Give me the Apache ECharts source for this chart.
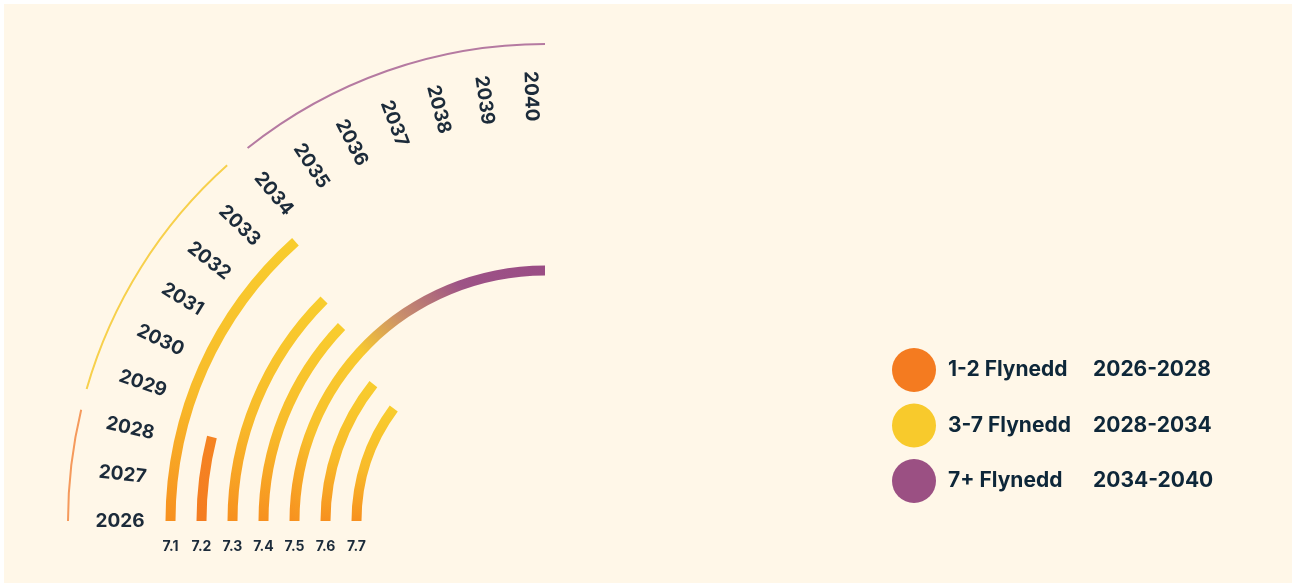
<!DOCTYPE html>
<html>
<head>
<meta charset="utf-8">
<script src="https://cdn.jsdelivr.net/npm/echarts@6/dist/echarts.min.js"></script>
<style>
  html, body { margin: 0; padding: 0; background: #fff; }
  #chart { position: absolute; left: 4px; top: 4px; width: 1288px; height: 579px; background: #fff7e8; }
</style>
</head>
<body>
<div id="chart"></div>
<script>
// sections, outer ring first
const sections = ['7.1', '7.2', '7.3', '7.4', '7.5', '7.6', '7.7']
// year each section's bar runs to (all start at 2026)
const reachYear = [2033.5, 2028.2, 2033, 2032.8, 2040, 2032, 2031.7]
const years = [2026, 2027, 2028, 2029, 2030, 2031, 2032, 2033, 2034, 2035, 2036, 2037, 2038, 2039, 2040]
// phases (outer thin ring + legend)
const phaseNames = ['1-2 Flynedd', '3-7 Flynedd', '7+ Flynedd']
const phaseRanges = ['2026-2028', '2028-2034', '2034-2040']
const phaseStart = [2026, 2028.5, 2034]
const phaseEnd = [2028.1, 2033.5, 2040]

const phaseColors = ['#f47b20', '#f8ca2c', '#9b5083']
const ringColors = ['#f59a5c', '#f7d04c', '#b57aa1']
const ink = '#1c2b3a'
const center = [541, 517]

const G = echarts.graphic.LinearGradient
const warm = new G(0, 1, 0, 0, [
  { offset: 0, color: '#f7901f' },
  { offset: 0.45, color: '#f8bb2a' },
  { offset: 1, color: '#f8cd2e' }
])
const deepOrange = new G(0, 1, 0, 0, [
  { offset: 0, color: '#f47c20' },
  { offset: 1, color: '#f58423' }
])
const toPurple = new G(0, 1, 1, 0, [
  { offset: 0, color: '#f7901f' },
  { offset: 0.22, color: '#f8c22c' },
  { offset: 0.47, color: '#f8c92e' },
  { offset: 0.62, color: '#c98e6c' },
  { offset: 0.8, color: '#9d5286' },
  { offset: 1, color: '#9a4d85' }
])

function barColor(i) {
  if (sections[i] === '7.2') return deepOrange
  if (reachYear[i] > 2034) return toPurple
  return warm
}

function angleOf(cs, p) {
  return Math.atan2(p[1] - cs.cy, p[0] - cs.cx)
}

const hidden = { axisLine: { show: false }, axisTick: { show: false }, axisLabel: { show: false }, splitLine: { show: false } }
const angleBase = { type: 'value', min: years[0], max: years[years.length - 1], startAngle: 180, endAngle: 90, clockwise: true }

const chart = echarts.init(document.getElementById('chart'))

const series = []

// radial bars, from the first year to reachYear
series.push({
  type: 'custom',
  coordinateSystem: 'polar',
  polarIndex: 0,
  encode: { radius: 0, angle: 1 },
  data: sections.map((s, i) => [s, reachYear[i]]),
  renderItem: function (params, api) {
    const cs = params.coordSys
    const p0 = api.coord([api.value(0), years[0]])
    const p1 = api.coord([api.value(0), api.value(1)])
    const r = Math.hypot(p0[0] - cs.cx, p0[1] - cs.cy)
    let s = angleOf(cs, p0)
    let e = angleOf(cs, p1)
    if (e < s) e += Math.PI * 2
    return {
      type: 'sector',
      shape: { cx: cs.cx, cy: cs.cy, r0: r - 5, r: r + 5, startAngle: s, endAngle: e, clockwise: true },
      style: { fill: barColor(params.dataIndex) }
    }
  }
})

// section labels under the bars
series.push({
  type: 'custom',
  coordinateSystem: 'polar',
  polarIndex: 0,
  encode: { radius: 0 },
  data: sections.map(s => [s]),
  renderItem: function (params, api) {
    const p = api.coord([api.value(0), years[0]])
    return {
      type: 'text',
      x: p[0], y: p[1] + 26,
      style: { text: sections[params.dataIndex], x: 0, y: 0, align: 'center', verticalAlign: 'middle', fill: ink, font: 'bold 14px Inter' }
    }
  }
})

phaseNames.forEach((name, i) => {
  series.push({
    name: name,
    type: 'custom',
    coordinateSystem: 'polar',
    polarIndex: 1,
    itemStyle: { color: phaseColors[i] },
    encode: { angle: [0, 1] },
    data: [[phaseStart[i], phaseEnd[i]]],
    renderItem: function (params, api) {
      const cs = params.coordSys
      let s = angleOf(cs, api.coord([cs.r, api.value(0)]))
      let e = angleOf(cs, api.coord([cs.r, api.value(1)]))
      if (e < s) e += Math.PI * 2
      return {
        type: 'arc',
        shape: { cx: cs.cx, cy: cs.cy, r: cs.r, startAngle: s, endAngle: e, clockwise: true },
        style: { stroke: ringColors[i], lineWidth: 2, fill: 'none' }
      }
    }
  })
})

// year labels, written along the radius (their own slightly tighter scale, as in the original)
series.push({
  type: 'custom',
  coordinateSystem: 'polar',
  polarIndex: 2,
  encode: { angle: 0 },
  data: years,
  renderItem: function (params, api) {
    const cs = params.coordSys
    const p = api.coord([cs.r, api.value(0)])
    const rot = -Math.atan2(cs.cy - p[1], cs.cx - p[0])
    return {
      type: 'text',
      x: p[0], y: p[1], rotation: rot,
      style: {
        text: String(api.value(0)), x: 0, y: 0,
        align: 'center', verticalAlign: 'middle',
        fill: ink, font: 'bold 19px Inter'
      }
    }
  }
})

chart.setOption({
  polar: [
    { center: center, radius: [173, 390] },
    { center: center, radius: [0, 477] },
    { center: center, radius: [0, 425] }
  ],
  angleAxis: [
    Object.assign({ polarIndex: 0 }, angleBase, hidden),
    Object.assign({ polarIndex: 1 }, angleBase, hidden),
    Object.assign({ polarIndex: 2 }, angleBase, hidden, { max: years[years.length - 1] + 0.3 })
  ],
  radiusAxis: [
    Object.assign({ polarIndex: 0, type: 'category', data: sections.slice().reverse() }, hidden),
    Object.assign({ polarIndex: 1, type: 'value', min: 0, max: 477 }, hidden),
    Object.assign({ polarIndex: 2, type: 'value', min: 0, max: 425 }, hidden)
  ],
  legend: {
    orient: 'vertical', left: 883, top: 339,
    itemWidth: 44, itemHeight: 44, itemGap: 11.5, icon: 'circle',
    data: phaseNames,
    selectedMode: false,
    formatter: function (name) {
      return '{a|' + name + '}{b|' + phaseRanges[phaseNames.indexOf(name)] + '}'
    },
    textStyle: {
      rich: {
        a: { width: 145, padding: [0, 0, 0, 7], color: '#0e2739', fontSize: 21, fontWeight: 'bold', fontFamily: 'Inter' },
        b: { color: '#0e2739', fontSize: 21, fontWeight: 'bold', fontFamily: 'Inter' }
      }
    }
  },
  series: series
})
</script>
</body>
</html>
